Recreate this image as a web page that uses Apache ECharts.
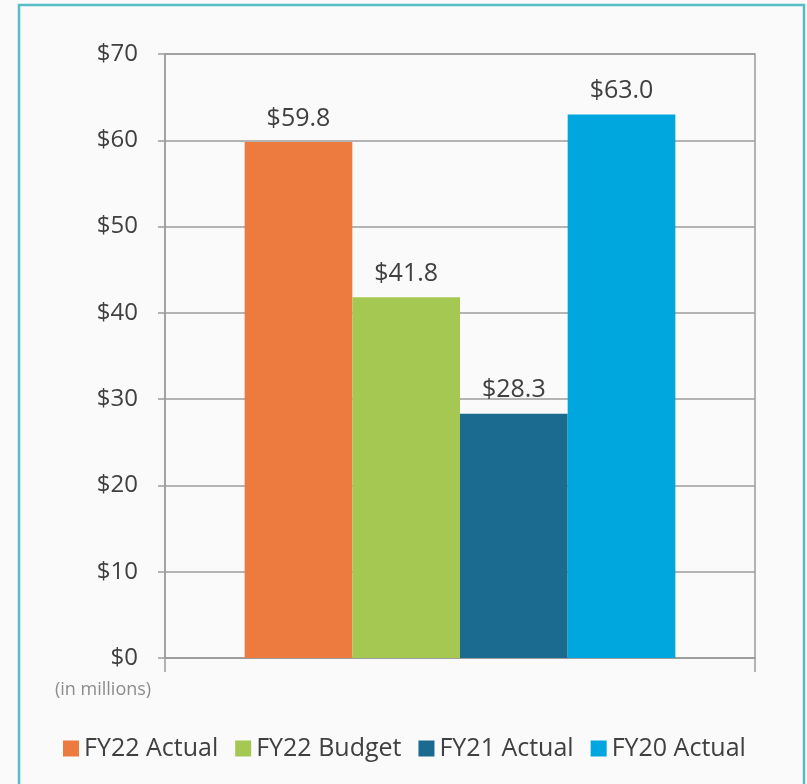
<!DOCTYPE html>
<html>
<head>
<meta charset="utf-8">
<script src="https://cdn.jsdelivr.net/npm/echarts@6/dist/echarts.min.js"></script>
<style>
    html, body { margin: 0; padding: 0; background: #fafafa; }
    #main { width: 807px; height: 784px; }
</style>
</head>
<body>
<div id="main"></div>
<script>
// chart data
const seriesNames = ['FY22 Actual', 'FY22 Budget', 'FY21 Actual', 'FY20 Actual'];
const seriesValues = [59.8, 41.8, 28.3, 63.0];
const seriesColors = ['#ed7a3f', '#a4c852', '#1b6a8f', '#00a7de'];
const yTicks = [0, 10, 20, 30, 40, 50, 60, 70];

const chart = echarts.init(document.getElementById('main'));
const FONT = '"Open Sans", "DejaVu Sans", sans-serif';

const option = {
    backgroundColor: '#fafafa',
    textStyle: { fontFamily: FONT },
    animation: false,
    grid: {
        left: 165,
        right: 52,
        top: 54,
        bottom: 126,
        show: true,
        borderColor: '#9c9c9c',
        borderWidth: 1.5,
        backgroundColor: 'transparent'
    },
    legend: {
        left: 58,
        top: 731,
        icon: 'rect',
        itemWidth: 16,
        itemHeight: 16,
        itemGap: 17,
        textStyle: { fontSize: 25, color: '#404040', fontFamily: FONT },
        data: seriesNames
    },
    xAxis: {
        type: 'category',
        data: [''],
        axisLine: { lineStyle: { color: '#9c9c9c', width: 1.5 } },
        axisTick: { show: true, interval: 0, length: 14, lineStyle: { color: '#9c9c9c', width: 1.5 } },
        axisLabel: { show: true, interval: 0, formatter: () => '' }
    },
    yAxis: {
        type: 'value',
        min: yTicks[0],
        max: yTicks[yTicks.length - 1],
        interval: 10,
        axisLine: { show: true, lineStyle: { color: '#9c9c9c', width: 1.5 } },
        axisTick: { show: true, length: 7, lineStyle: { color: '#9c9c9c', width: 1.5 } },
        splitLine: { lineStyle: { color: '#9c9c9c', width: 1.5 } },
        axisLabel: {
            margin: 27,
            fontSize: 24,
            color: '#404040',
            fontFamily: FONT,
            formatter: v => '$' + v
        }
    },
    graphic: [
        {
            type: 'rect',
            shape: { x: 19, y: 5, width: 785, height: 820 },
            style: { fill: 'transparent', stroke: '#55bcc8', lineWidth: 2.5 },
            silent: true
        },
        {
            type: 'text',
            left: 55,
            top: 681,
            style: { text: '(in millions)', fontSize: 18, fill: '#8c8c8c', fontFamily: FONT }
        }
    ],
    series: seriesNames.map((name, i) => ({
        name: name,
        type: 'bar',
        barGap: '0%',
        barCategoryGap: '27%',
        itemStyle: { color: seriesColors[i] },
        label: {
            show: true,
            position: 'top',
            distance: 11,
            fontSize: 25,
            color: '#404040',
            fontFamily: FONT,
            formatter: p => '$' + p.value.toFixed(1)
        },
        data: [seriesValues[i]]
    }))
};

chart.setOption(option);
</script>
</body>
</html>
